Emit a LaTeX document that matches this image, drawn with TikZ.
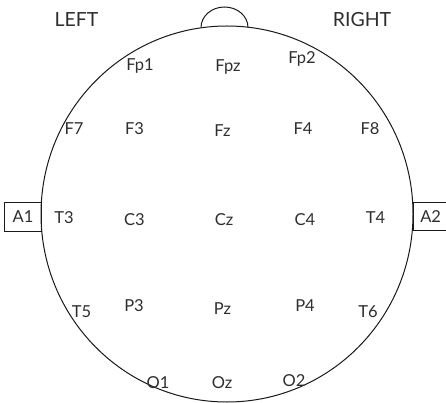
\documentclass[tikz,border=0pt]{standalone}
\usepackage{fontspec}
\setmainfont{Lato}

\begin{document}
\begin{tikzpicture}[
		x=1pt, y=-1pt,
		head/.style={draw=black!90, line width=1pt},
		electrode/.style={text=black!82, font=\fontsize{16.5}{18}\selectfont, inner sep=0pt, text height=11.8pt, text depth=0pt},
		side/.style={text=black!82, font=\fontsize{19.5}{22}\selectfont, inner sep=0pt, text height=14.3pt, text depth=0pt},
		ear/.style={draw=black!90, line width=0.8pt, text=black!82, font=\fontsize{16.5}{18}\selectfont, minimum width=36.5pt, minimum height=28.5pt, inner sep=0pt}
		]
		\useasboundingbox (0,0) rectangle (446,403);
		
		% ---------------------------------------------------------
		% Head outline, nose and ears
		% ---------------------------------------------------------
		\draw[head] (227,214) ellipse (186 and 188);
		\draw[head] (201,27.5) arc (180:360:23.5 and 20.5);
		
		\node[ear, anchor=east] (a1) at (41.7,216.8) {A1};
		\node[ear, anchor=west] (a2) at (413,216.5) {\hspace*{-2pt}A2};
		
		% ---------------------------------------------------------
		% Sides
		% ---------------------------------------------------------
		\node[side] (left) at (76.5,19.5) {LEFT};
		\node[side] (right) at (362,19.5) {RIGHT};
		
		% ---------------------------------------------------------
		% Electrodes (10-20 system)
		% ---------------------------------------------------------
		\foreach \name/\x/\y/\txt in {
				fp1/140/65/Fp1, fpz/228/66/Fpz, fp2/302/58/Fp2,
				f7/74/129/F7, f3/134.5/129/F3, fz/222.5/131/Fz, f4/303/129/F4, f8/370/129/F8,
				t3/64/217.5/T3, c3/134.5/219.5/C3, cz/224/219.5/Cz, c4/305/219.5/C4, t4/375.5/217.5/T4,
				t5/81.5/311.5/T5, p3/134/305.5/P3, pz/222.5/308.5/Pz, p4/305/305.5/P4, t6/368/311.5/T6,
				o1/158/383/O1, oz/222/383/Oz, o2/294/381/O2} {
			\node[electrode] (\name) at (\x,\y) {\txt};
		}
		
	\end{tikzpicture}
\end{document}
